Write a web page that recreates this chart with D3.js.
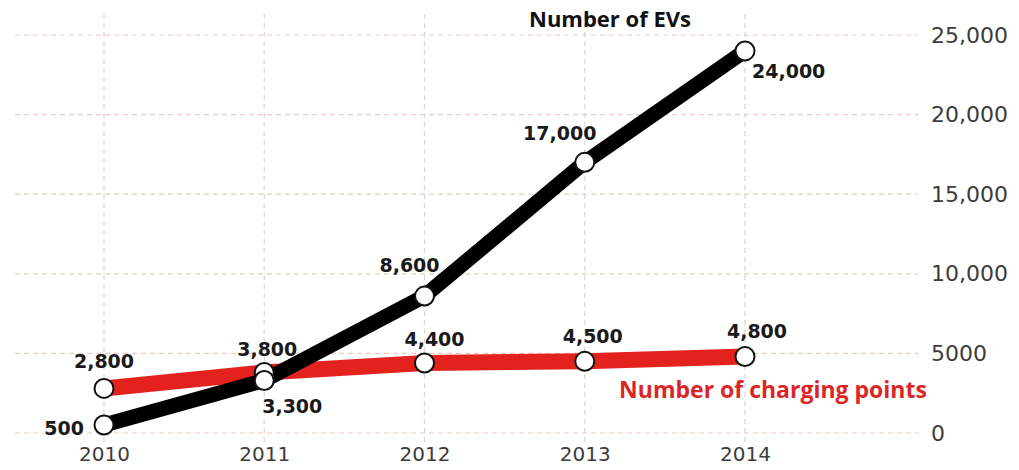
<!DOCTYPE html>
<html>
<head>
<meta charset="utf-8">
<script src="https://cdn.jsdelivr.net/npm/d3@7"></script>
<style>
  body { margin: 0; background: #fff; }
  text { font-family: "DejaVu Sans", sans-serif; }
  text.title { font-family: "Open Sans", sans-serif; }
</style>
</head>
<body>
<svg id="chart" width="1019" height="470"></svg>
<script>
// data
const years = [2010, 2011, 2012, 2013, 2014];
const evs = [500, 3300, 8600, 17000, 24000];
const chargers = [2800, 3800, 4400, 4500, 4800];
const yTicks = [0, 5000, 10000, 15000, 20000, 25000];
const yTickLabels = ["0", "5000", "10,000", "15,000", "20,000", "25,000"];
const evLabels = ["500", "3,300", "8,600", "17,000", "24,000"];
const chargerLabels = ["2,800", "3,800", "4,400", "4,500", "4,800"];

const svg = d3.select("#chart");

let x = d3.scalePoint()
  .domain(years)
  .range([104, 745]);

let y = d3.scaleLinear()
  .domain([0, 25000])
  .range([433, 35]);

// grid
let grid = svg.append("g");
grid.selectAll("line.h")
  .data(yTicks)
  .enter()
  .append("line")
  .attr("x1", 15).attr("x2", 918)
  .attr("y1", d => y(d)).attr("y2", d => y(d))
  .attr("stroke", "#ecc9c0")
  .attr("stroke-width", 1.2)
  .attr("stroke-dasharray", "5,4");

grid.selectAll("line.v")
  .data(years)
  .enter()
  .append("line")
  .attr("x1", d => x(d)).attr("x2", d => x(d))
  .attr("y1", 14).attr("y2", 442)
  .attr("stroke", "#d6d6d6")
  .attr("stroke-width", 1.2)
  .attr("stroke-dasharray", "5,4");

// right axis labels
let yAxis = d3.axisRight(y)
  .tickValues(yTicks)
  .tickFormat((d, i) => yTickLabels[i])
  .tickSize(0)
  .tickPadding(0);

svg.append("g")
  .attr("transform", "translate(931,0)")
  .call(yAxis)
  .call(g => g.select(".domain").remove())
  .selectAll("text")
    .attr("font-size", 22)
    .attr("fill", "#3c3c3c");

// bottom axis labels
let xAxis = d3.axisBottom(x).tickSize(0).tickPadding(0);
svg.append("g")
  .attr("transform", "translate(0,447)")
  .call(xAxis)
  .call(g => g.select(".domain").remove())
  .selectAll("text")
    .attr("font-size", 20)
    .attr("fill", "#3c3c3c");

let line = d3.line()
  .x((d, i) => x(years[i]))
  .y(d => y(d));

svg.append("path")
  .datum(chargers)
  .attr("d", line)
  .attr("fill", "none")
  .attr("stroke", "#e3221e")
  .attr("stroke-width", 16);

svg.append("path")
  .datum(evs)
  .attr("d", line)
  .attr("fill", "none")
  .attr("stroke", "#000")
  .attr("stroke-width", 15)
  .attr("stroke-linejoin", "round");

function markers(data) {
  svg.append("g")
    .selectAll("circle")
    .data(data)
    .enter()
    .append("circle")
    .attr("cx", (d, i) => x(years[i]))
    .attr("cy", d => y(d))
    .attr("r", 9.5)
    .attr("fill", "#fff")
    .attr("stroke", "#111")
    .attr("stroke-width", 2);
}
markers(chargers);
markers(evs);

// value labels: [dx, dy, anchor] relative to the point
const evOff = [[-20, 10, "end"], [28, 33, "middle"], [-15, -24, "middle"], [-25, -22, "middle"], [7, 27, "start"]];
const chOff = [[0, -20], [3, -17], [10, -17], [8, -18], [12, -19]];

svg.append("g")
  .selectAll("text")
  .data(evs)
  .enter()
  .append("text")
  .attr("x", (d, i) => x(years[i]) + evOff[i][0])
  .attr("y", (d, i) => y(d) + evOff[i][1])
  .attr("text-anchor", (d, i) => evOff[i][2])
  .attr("font-size", 19)
  .attr("font-weight", "bold")
  .attr("fill", "#1a1a1a")
  .text((d, i) => evLabels[i]);

svg.append("g")
  .selectAll("text")
  .data(chargers)
  .enter()
  .append("text")
  .attr("x", (d, i) => x(years[i]) + chOff[i][0])
  .attr("y", (d, i) => y(d) + chOff[i][1])
  .attr("text-anchor", "middle")
  .attr("font-size", 19)
  .attr("font-weight", "bold")
  .attr("fill", "#1a1a1a")
  .text((d, i) => chargerLabels[i]);

// series titles
svg.append("text")
  .attr("class", "title")
  .attr("x", 610).attr("y", 27)
  .attr("text-anchor", "middle")
  .attr("font-size", 22)
  .attr("font-weight", "bold")
  .attr("fill", "#111")
  .text("Number of EVs");

svg.append("text")
  .attr("class", "title")
  .attr("x", 773).attr("y", 398)
  .attr("text-anchor", "middle")
  .attr("font-size", 23)
  .attr("font-weight", "bold")
  .attr("fill", "#dc2626")
  .text("Number of charging points");
</script>
</body>
</html>
